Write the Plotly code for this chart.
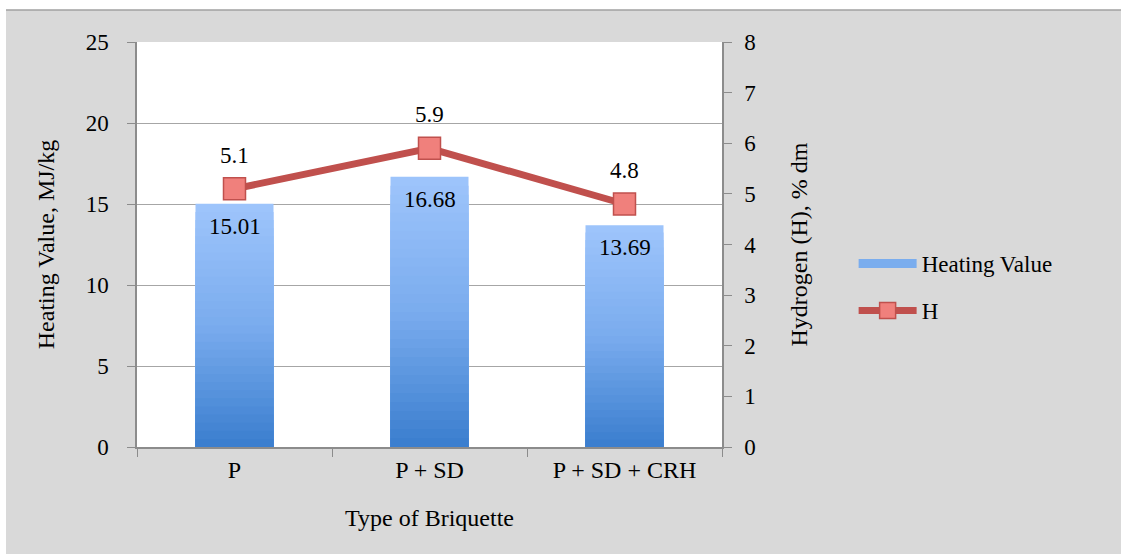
import plotly.graph_objects as go

# Briquette types and measured properties
categories = ["P", "P + SD", "P + SD + CRH"]
heating_value = [15.01, 16.68, 13.69]   # MJ/kg
hydrogen = [5.1, 5.9, 4.8]              # % dm

FONT = "Liberation Serif, DejaVu Serif, serif"
TOP_RGB = (157, 196, 251)
MID_RGB = (122, 172, 238)
BOT_RGB = (60, 127, 207)
LINE_RED = "#C0504D"
MARKER_RED = "#F0807C"


def blend(t):
    """Colour for relative depth t (0 = bar top, 1 = bar bottom)."""
    if t < 0.5:
        a, b, u = TOP_RGB, MID_RGB, t / 0.5
    else:
        a, b, u = MID_RGB, BOT_RGB, (t - 0.5) / 0.5
    return "rgb(%d,%d,%d)" % tuple(round(a[k] + (b[k] - a[k]) * u) for k in range(3))


fig = go.Figure()

# Vertical gradient on the columns: overlaid bars of shrinking height,
# each one a little darker than the one beneath it.
LAYERS = 30
for i in range(LAYERS):
    frac = 1 - i / LAYERS
    fig.add_trace(go.Bar(
        x=categories,
        y=[v * frac for v in heating_value],
        marker=dict(color=blend(i / (LAYERS - 1)), line=dict(width=0)),
        width=0.4,
        showlegend=False,
        hoverinfo="skip" if i else "x+y",
        yaxis="y",
    ))

# Legend entry for the columns
fig.add_trace(go.Scatter(
    x=[None], y=[None], mode="lines", name="Heating Value",
    line=dict(color="#7AADEE", width=9), legendgroup="hv",
))

# Hydrogen content line on the secondary axis
fig.add_trace(go.Scatter(
    x=categories, y=hydrogen, name="H", yaxis="y2", mode="lines+markers",
    line=dict(color=LINE_RED, width=7),
    marker=dict(symbol="square", size=22, color=MARKER_RED,
                line=dict(color=LINE_RED, width=1.5)),
    legendgroup="h",
))

annotations = []
for c, v in zip(categories, heating_value):
    annotations.append(dict(
        x=c, y=v, xref="x", yref="y", text=f"{v:.2f}", showarrow=False,
        yanchor="top", yshift=-8, font=dict(family=FONT, size=23, color="black"),
    ))
for c, h in zip(categories, hydrogen):
    annotations.append(dict(
        x=c, y=h, xref="x", yref="y2", text=f"{h}", showarrow=False,
        yanchor="bottom", yshift=19, font=dict(family=FONT, size=23, color="black"),
    ))

axis_line = "#8C8C8C"
fig.update_layout(
    width=1121, height=554,
    margin=dict(l=137, r=399, t=42, b=107),
    paper_bgcolor="#D9D9D9",
    plot_bgcolor="white",
    barmode="overlay",
    bargap=0.6,
    font=dict(family=FONT, size=23, color="black"),
    xaxis=dict(
        type="category",
        showgrid=False,
        showline=True, linecolor=axis_line, linewidth=1.5,
        ticks="outside", tickcolor=axis_line, ticklen=8,
        tickson="boundaries",
        tickfont=dict(family=FONT, size=24),
        title=dict(text="Type of Briquette", font=dict(family=FONT, size=24), standoff=28),
    ),
    yaxis=dict(
        range=[0, 25], dtick=5,
        showgrid=True, gridcolor="#A6A6A6", gridwidth=1,
        showline=True, linecolor=axis_line, linewidth=1.5,
        ticks="outside", tickcolor=axis_line, ticklen=8,
        ticklabelstandoff=14,
        tickfont=dict(family=FONT, size=23),
        zeroline=False,
        title=dict(text="Heating Value, MJ/kg", font=dict(family=FONT, size=24), standoff=24),
    ),
    yaxis2=dict(
        range=[0, 8], dtick=1, overlaying="y", side="right",
        showgrid=False,
        showline=True, linecolor=axis_line, linewidth=1.5,
        ticks="outside", tickcolor=axis_line, ticklen=8,
        ticklabelstandoff=8,
        tickfont=dict(family=FONT, size=23),
        zeroline=False,
        title=dict(text="Hydrogen (H), % dm", font=dict(family=FONT, size=24), standoff=35),
    ),
    legend=dict(
        x=1.225, y=0.395, xanchor="left", yanchor="middle",
        bgcolor="rgba(0,0,0,0)", font=dict(family=FONT, size=23),
        tracegroupgap=14, itemwidth=58,
    ),
    annotations=annotations,
    shapes=[
        # white margin strips and the thin border along the top edge
        dict(type="rect", xref="paper", yref="paper", x0=-0.25, x1=1.70,
             y0=1.079, y1=1.12, fillcolor="white", line=dict(width=0), layer="below"),
        dict(type="rect", xref="paper", yref="paper", x0=-0.25, x1=-0.2239,
             y0=-0.28, y1=1.12, fillcolor="white", line=dict(width=0), layer="below"),
        dict(type="line", xref="paper", yref="paper", x0=-0.2239, x1=1.70,
             y0=1.079, y1=1.079, line=dict(color="#A0A0A0", width=1.5), layer="below"),
    ],
)

fig.write_html("out.html")
